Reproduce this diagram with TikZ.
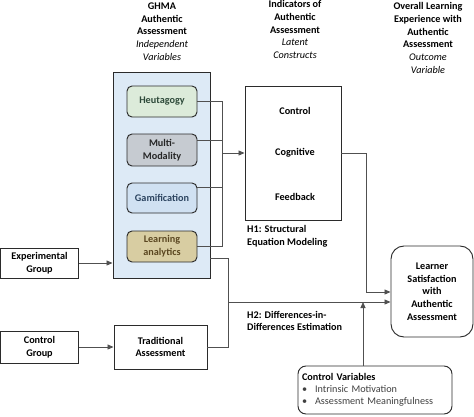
\documentclass[tikz,border=0pt]{standalone}
\usepackage{fontspec}
\setmainfont{Carlito}
\usetikzlibrary{arrows.meta,calc}
\definecolor{outerblue}{HTML}{DDEAF6}
\definecolor{heufill}{HTML}{DCEBDA}
\definecolor{heutext}{HTML}{2E4A3A}
\definecolor{mmfill}{HTML}{C6CBD1}
\definecolor{gamfill}{HTML}{D0E1F2}
\definecolor{gamtext}{HTML}{2C4460}
\definecolor{lafill}{HTML}{D8CDA2}
\definecolor{latext}{HTML}{5A4620}
\definecolor{linegray}{HTML}{505050}
\definecolor{boxline}{HTML}{2B2B2B}
\definecolor{itemgray}{HTML}{404040}
\tikzset{
  txt/.style={font=\fontsize{10.2}{12.7}\selectfont, align=center, inner sep=0pt},
  btxt/.style={txt, font=\fontsize{10.2}{12.7}\selectfont\bfseries},
  sqbox/.style={txt, draw=boxline, line width=0.95pt, fill=white},
  innerbox/.style={btxt, draw=boxline, line width=0.95pt, rounded corners=5pt, minimum width=70pt},
  conn/.style={draw=linegray, line width=0.85pt},
  arr/.style={conn, -{Triangle[length=6pt,width=5pt]}},
}
\begin{document}
\begin{tikzpicture}[x=1pt,y=-1pt]
\useasboundingbox (0,0) rectangle (474,416);
% header labels
\node[txt] (hA) at (162,31.5) {\bfseries GHMA\\\bfseries Authentic\\\bfseries Assessment\\\itshape Independent\\\itshape Variables};
\node[txt] (hB) at (295,29.5) {\bfseries Indicators of\\\bfseries Authentic\\\bfseries Assessment\\\itshape Latent\\\itshape Constructs};
\node[txt] (hC) at (428,38) {\bfseries Overall Learning\\\bfseries Experience with\\\bfseries Authentic\\\bfseries Assessment\\\itshape Outcome\\\itshape Variable};
% outer blue box
\node[draw=boxline, line width=0.95pt, fill=outerblue, minimum width=97pt, minimum height=206pt, inner sep=0pt] (blue) at (161.5,175) {};
\node[innerbox, fill=heufill, text=heutext, minimum height=31pt] (heu) at (162,101.5) {Heutagogy};
\node[innerbox, fill=mmfill, text=black!85, minimum height=32pt] (mm) at (162,150) {Multi-\\Modality};
\node[innerbox, fill=gamfill, text=gamtext, minimum height=30pt] (gam) at (162,198) {Gamification};
\node[innerbox, fill=lafill, text=latext, minimum height=31pt] (la) at (162,246.5) {Learning\\analytics};
% indicators box
\node[sqbox, minimum width=96pt, minimum height=134pt] (ind) at (293,153) {};
\node[btxt] (ctrl) at (295,111) {Control};
\node[btxt] (cog) at (295,153) {Cognitive};
\node[btxt] (fb) at (295,197) {Feedback};
\node[btxt, align=left, anchor=west] (h1) at (247,236.5) {H1: Structural\\Equation Modeling};
% learner box
\node[sqbox, btxt, draw=boxline, line width=0.95pt, rounded corners=13pt, minimum width=82pt, minimum height=91pt] (learn) at (432,291.5) {Learner\\Satisfaction\\with\\Authentic\\Assessment};
% control variables
\node[sqbox, rounded corners=8pt, minimum width=154pt, minimum height=48pt, align=left, text width=146pt] (cv) at (375,390) {\textbf{Control Variables}\\[-0.5pt]
\textcolor{itemgray}{\textbullet\hspace{8pt}Intrinsic Motivation}\\[-0.5pt]
\textcolor{itemgray}{\textbullet\hspace{8pt}Assessment Meaningfulness}};
% groups
\node[sqbox, btxt, draw=boxline, line width=0.95pt, minimum width=78pt, minimum height=30pt] (exp) at (39.5,263) {Experimental\\Group};
\node[sqbox, btxt, draw=boxline, line width=0.95pt, minimum width=78pt, minimum height=32pt] (cg) at (39.5,347) {Control\\Group};
\node[sqbox, btxt, draw=boxline, line width=0.95pt, minimum width=93pt, minimum height=44pt] (trad) at (160.5,347) {Traditional\\Assessment};
\node[btxt, align=left, anchor=west] (h2) at (247,321) {H2: Differences-in-\\Differences Estimation};
% coordinates
\coordinate (col) at (222,153);
\coordinate (jn) at (228,302);
\coordinate (h1x) at (366,292);
\coordinate (cvx) at (363,302);
% connectors
\draw[conn] (heu.east) -| (col);
\draw[conn] ($(mm.north east)!0.22!(mm.south east)$) -| (col);
\draw[conn] ($(gam.north east)!0.15!(gam.south east)$) -| (col);
\draw[conn] (la.east) -| (col);
\draw[arr] (col) -- (ind.west);
\draw[conn] (ind.east) -| (h1x);
\draw[arr] (h1x) -- (h1x -| learn.west);
\draw[conn] (blue.east |- 0,258) -| (jn);
\draw[conn] (trad.east) -| (jn);
\draw[arr] (jn) -- (jn -| learn.west);
\draw[arr] (cvx |- cv.north) -- (cvx);
\draw[arr] (exp.east) -- (exp.east -| blue.west);
\draw[arr] (cg.east) -- (trad.west);
\end{tikzpicture}
\end{document}
